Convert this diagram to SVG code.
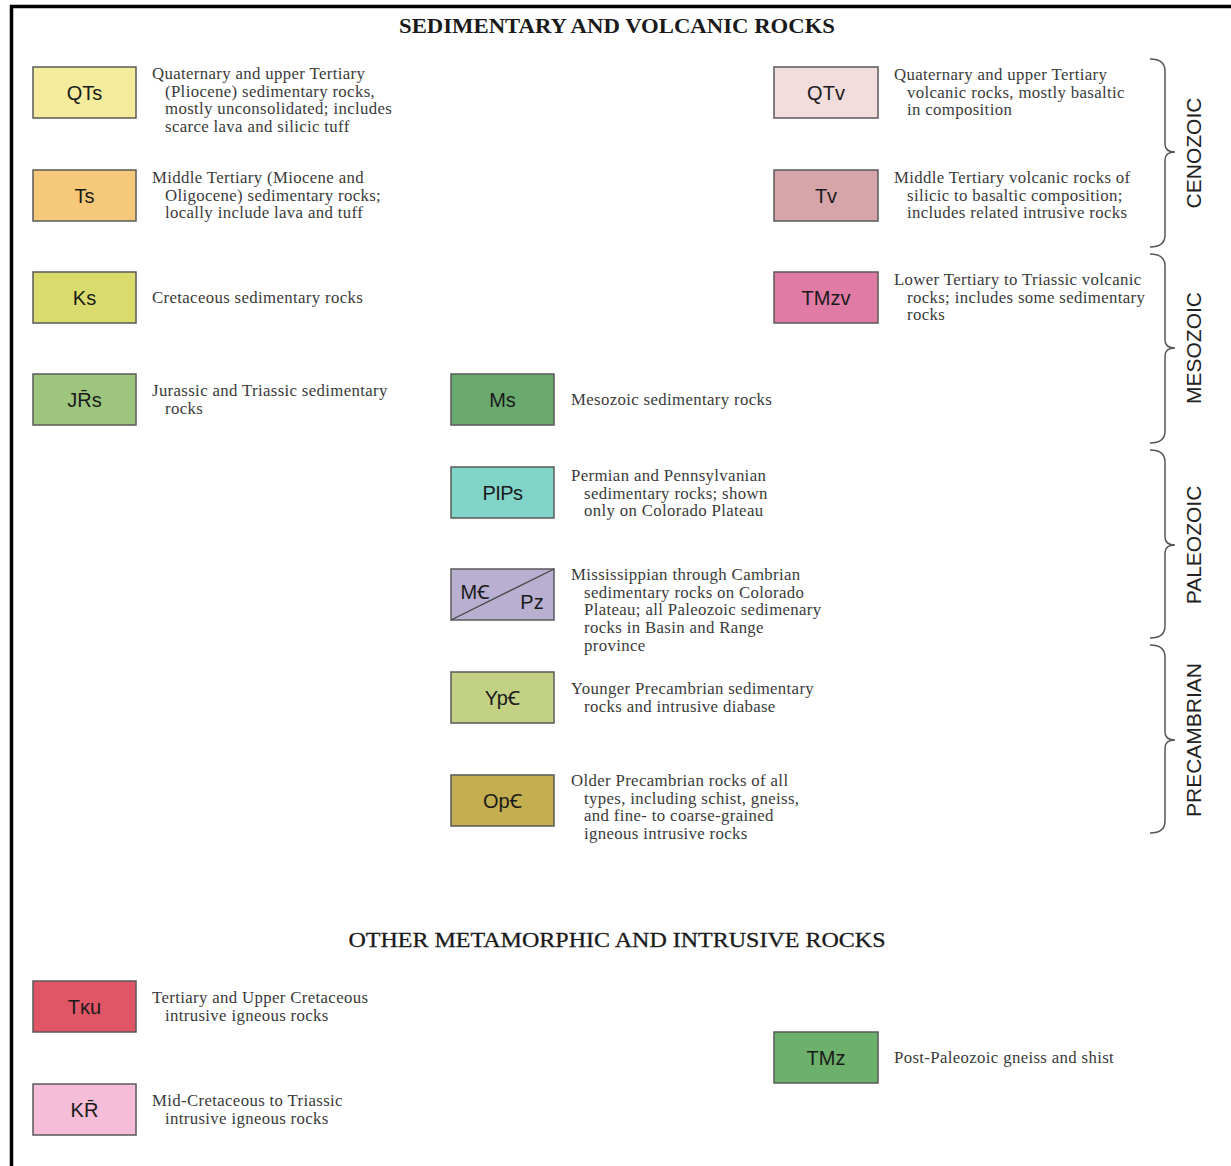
<svg xmlns="http://www.w3.org/2000/svg" width="1231" height="1166" viewBox="0 0 1231 1166">
<style>
.sw{stroke:#5a5a5a;stroke-width:1.5}
.lb{font-family:"Liberation Sans","Noto Sans","DejaVu Sans",sans-serif;font-size:20px;fill:#1a1a1a;text-anchor:middle}
.ds{font-family:"Liberation Serif","DejaVu Serif",serif;font-size:16.8px;letter-spacing:0.35px;fill:#3a3a3a}
.hd{font-family:"Liberation Serif","DejaVu Serif",serif;fill:#1a1a1a;text-anchor:middle}
.era{font-family:"Liberation Sans","DejaVu Sans",sans-serif;font-size:21px;fill:#222;text-anchor:middle}
.br{fill:none;stroke:#555;stroke-width:1.5}
</style>
<rect width="1231" height="1166" fill="#fff"/>
<path d="M11.5 1166 V6.5 H1231" fill="none" stroke="#000" stroke-width="3.5"/>
<text class="hd" x="617" y="33" font-size="20" font-weight="bold" textLength="436" lengthAdjust="spacingAndGlyphs">SEDIMENTARY AND VOLCANIC ROCKS</text>
<text class="hd" x="617" y="947" font-size="21" stroke="#1a1a1a" stroke-width="0.3" textLength="537" lengthAdjust="spacingAndGlyphs">OTHER METAMORPHIC AND INTRUSIVE ROCKS</text>

<g id="QTs"><rect class="sw" x="33" y="67" width="103" height="51" fill="#f5eb9c"/><text class="lb" x="84.5" y="100">QTs</text>
<text class="ds" x="152" y="79">Quaternary and upper Tertiary<tspan x="165" dy="17.7">(Pliocene) sedimentary rocks,</tspan><tspan x="165" dy="17.7">mostly unconsolidated; includes</tspan><tspan x="165" dy="17.7">scarce lava and silicic tuff</tspan></text></g>
<g id="Ts"><rect class="sw" x="33" y="170" width="103" height="51" fill="#f6c97a"/><text class="lb" x="84.5" y="203">Ts</text>
<text class="ds" x="152" y="183">Middle Tertiary (Miocene and<tspan x="165" dy="17.7">Oligocene) sedimentary rocks;</tspan><tspan x="165" dy="17.7">locally include lava and tuff</tspan></text></g>
<g id="Ks"><rect class="sw" x="33" y="272" width="103" height="51" fill="#d9dc6c"/><text class="lb" x="84.5" y="305">Ks</text>
<text class="ds" x="152" y="303">Cretaceous sedimentary rocks</text></g>
<g id="JTRs"><rect class="sw" x="33" y="374" width="103" height="51" fill="#9ec57e"/><text class="lb" x="84.5" y="407">JR̄s</text>
<text class="ds" x="152" y="396">Jurassic and Triassic sedimentary<tspan x="165" dy="17.7">rocks</tspan></text></g>

<g id="Ms"><rect class="sw" x="451" y="374" width="103" height="51" fill="#6aaa6e"/><text class="lb" x="502.5" y="407">Ms</text>
<text class="ds" x="571" y="405">Mesozoic sedimentary rocks</text></g>
<g id="PIPs"><rect class="sw" x="451" y="467" width="103" height="51" fill="#80d4c8"/><text class="lb" x="502.5" y="500" letter-spacing="-0.5">PIPs</text>
<text class="ds" x="571" y="481">Permian and Pennsylvanian<tspan x="584" dy="17.7">sedimentary rocks; shown</tspan><tspan x="584" dy="17.7">only on Colorado Plateau</tspan></text></g>
<g id="MCPz"><rect class="sw" x="451" y="569" width="103" height="51" fill="#b9afd1"/><line x1="451" y1="620" x2="554" y2="569" stroke="#444" stroke-width="1.3"/>
<text class="lb" x="475" y="599">MꞒ</text><text class="lb" x="532" y="609">Pz</text>
<text class="ds" x="571" y="580">Mississippian through Cambrian<tspan x="584" dy="17.7">sedimentary rocks on Colorado</tspan><tspan x="584" dy="17.7">Plateau; all Paleozoic sedimenary</tspan><tspan x="584" dy="17.7">rocks in Basin and Range</tspan><tspan x="584" dy="17.7">province</tspan></text></g>
<g id="YpC"><rect class="sw" x="451" y="672" width="103" height="51" fill="#c3d185"/><text class="lb" x="502.5" y="705">YpꞒ</text>
<text class="ds" x="571" y="694">Younger Precambrian sedimentary<tspan x="584" dy="17.7">rocks and intrusive diabase</tspan></text></g>
<g id="OpC"><rect class="sw" x="451" y="775" width="103" height="51" fill="#c5ae4f"/><text class="lb" x="502.5" y="808">OpꞒ</text>
<text class="ds" x="571" y="786">Older Precambrian rocks of all<tspan x="584" dy="17.7">types, including schist, gneiss,</tspan><tspan x="584" dy="17.7">and fine- to coarse-grained</tspan><tspan x="584" dy="17.7">igneous intrusive rocks</tspan></text></g>

<g id="QTv"><rect class="sw" x="774" y="67" width="104" height="51" fill="#f2dcdc"/><text class="lb" x="826" y="100">QTv</text>
<text class="ds" x="894" y="80">Quaternary and upper Tertiary<tspan x="907" dy="17.7">volcanic rocks, mostly basaltic</tspan><tspan x="907" dy="17.7">in composition</tspan></text></g>
<g id="Tv"><rect class="sw" x="774" y="170" width="104" height="51" fill="#d6a5a9"/><text class="lb" x="826" y="203">Tv</text>
<text class="ds" x="894" y="183">Middle Tertiary volcanic rocks of<tspan x="907" dy="17.7">silicic to basaltic composition;</tspan><tspan x="907" dy="17.7">includes related intrusive rocks</tspan></text></g>
<g id="TMzv"><rect class="sw" x="774" y="272" width="104" height="51" fill="#e07ba6"/><text class="lb" x="826" y="305">TMzv</text>
<text class="ds" x="894" y="285">Lower Tertiary to Triassic volcanic<tspan x="907" dy="17.7">rocks; includes some sedimentary</tspan><tspan x="907" dy="17.7">rocks</tspan></text></g>

<g id="TKu"><rect class="sw" x="33" y="981" width="103" height="51" fill="#e05666"/><text class="lb" x="84.5" y="1014">Tĸu</text>
<text class="ds" x="152" y="1003">Tertiary and Upper Cretaceous<tspan x="165" dy="17.7">intrusive igneous rocks</tspan></text></g>
<g id="KTR"><rect class="sw" x="33" y="1084" width="103" height="51" fill="#f5bdd7"/><text class="lb" x="84.5" y="1117">KR̄</text>
<text class="ds" x="152" y="1106">Mid-Cretaceous to Triassic<tspan x="165" dy="17.7">intrusive igneous rocks</tspan></text></g>
<g id="TMz"><rect class="sw" x="774" y="1032" width="104" height="51" fill="#6cb06c"/><text class="lb" x="826" y="1065">TMz</text>
<text class="ds" x="894" y="1063">Post-Paleozoic gneiss and shist</text></g>

<g id="eras">
<path class="br" d="M1150 59 Q1165 59 1165 71 L1165 144 Q1165 152 1175 152 Q1165 152 1165 160 L1165 235 Q1165 247 1150 247"/>
<path class="br" d="M1150 254 Q1165 254 1165 266 L1165 340 Q1165 348 1175 348 Q1165 348 1165 356 L1165 431 Q1165 443 1150 443"/>
<path class="br" d="M1150 450 Q1165 450 1165 462 L1165 537 Q1165 545 1175 545 Q1165 545 1165 553 L1165 626 Q1165 638 1150 638"/>
<path class="br" d="M1150 645 Q1165 645 1165 657 L1165 732 Q1165 740 1175 740 Q1165 740 1165 748 L1165 821 Q1165 833 1150 833"/>
<text class="era" transform="translate(1201 153) rotate(-90)">CENOZOIC</text>
<text class="era" transform="translate(1201 348) rotate(-90)">MESOZOIC</text>
<text class="era" transform="translate(1201 545) rotate(-90)">PALEOZOIC</text>
<text class="era" transform="translate(1201 740) rotate(-90)">PRECAMBRIAN</text>
</g>
</svg>
